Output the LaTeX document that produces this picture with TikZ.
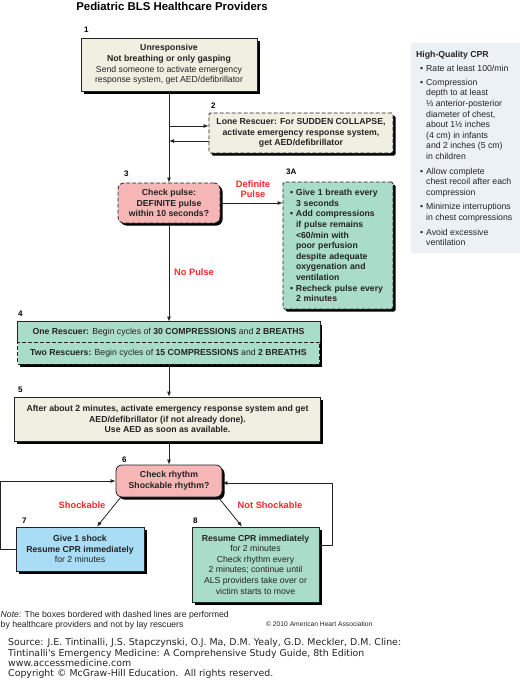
\documentclass[tikz,border=0pt]{standalone}
\usepackage{fontspec}
\setmainfont{Liberation Sans}
\newfontfamily\srcfont{DejaVu Sans}
\usetikzlibrary{arrows.meta,shadows,positioning}

\definecolor{beige}{RGB}{240,240,226}
\definecolor{pinkbox}{RGB}{246,182,182}
\definecolor{mint}{RGB}{170,221,201}
\definecolor{skyblue}{RGB}{168,221,245}
\definecolor{panelbg}{RGB}{236,241,245}
\definecolor{alarm}{RGB}{255,40,40}
\definecolor{ink}{RGB}{35,35,35}

\newcommand{\boxfont}{\fontsize{8.7}{10.6}\selectfont}
\newcommand{\cprbul}{\makebox[6pt][l]{\textbullet}}
\newcommand{\cprind}{\hspace*{6pt}}

\tikzset{
  box/.style={draw=ink, line width=0.8pt, align=center, inner sep=0pt,
    font=\boxfont, text=ink,
    general shadow={fill=black, shadow xshift=2.5pt, shadow yshift=-2.5pt}},
  dashbox/.style={box, dash pattern=on 4pt off 2pt},
  numlabel/.style={anchor=base west, inner sep=0pt, font=\fontsize{8}{9}\selectfont\bfseries},
  redlabel/.style={inner sep=0pt, align=center, text=alarm, font=\fontsize{9.3}{10}\selectfont\bfseries},
  arr/.style={-{Latex[length=5pt,width=4pt]}, draw=ink, line width=0.8pt}
}

\begin{document}
\begin{tikzpicture}[x=1pt,y=-1pt]
\useasboundingbox (0,0) rectangle (520,681);

% title
\node[anchor=base, inner sep=0pt, font=\fontsize{11.4}{13}\selectfont\bfseries] (title) at (172,10) {Pediatric BLS Healthcare Providers};

% high-quality CPR panel
\fill[panelbg] (411,43) rectangle (520,253);
\node[anchor=north west, inner sep=0pt, align=left, font=\boxfont, text=ink] (hq) at (416,50.5) {%
  \textbf{High-Quality CPR}\\[3.4pt]
  \hspace*{4pt}\cprbul Rate at least 100/min\\[3.6pt]
  \hspace*{4pt}\cprbul Compression\\
  \hspace*{4pt}\cprind depth to at least\\
  \hspace*{4pt}\cprind ⅓ anterior-posterior\\
  \hspace*{4pt}\cprind diameter of chest,\\
  \hspace*{4pt}\cprind about 1½ inches\\
  \hspace*{4pt}\cprind (4 cm) in infants\\
  \hspace*{4pt}\cprind and 2 inches (5 cm)\\
  \hspace*{4pt}\cprind in children\\[4pt]
  \hspace*{4pt}\cprbul Allow complete\\
  \hspace*{4pt}\cprind chest recoil after each\\
  \hspace*{4pt}\cprind compression\\[3.6pt]
  \hspace*{4pt}\cprbul Minimize interruptions\\
  \hspace*{4pt}\cprind in chest compressions\\[4.4pt]
  \hspace*{4pt}\cprbul Avoid excessive\\
  \hspace*{4pt}\cprind ventilation};

% boxes
\node[box, fill=beige, minimum width=176pt, minimum height=53pt] (unresp) at (169,64.5)
  {\textbf{Unresponsive}\\ \textbf{Not breathing or only gasping}\\ Send someone to activate emergency\\ response system, get AED/defibrillator};
\node[dashbox, fill=beige, rounded corners=1.5pt, minimum width=184pt, minimum height=40pt] (lone) at (301,133)
  {\bfseries Lone Rescuer: For SUDDEN COLLAPSE,\\ \bfseries activate emergency response system,\\ \bfseries get AED/defibrillator};
\node[dashbox, fill=pinkbox, rounded corners=6pt, minimum width=102pt, minimum height=40pt] (pulse) at (169,203)
  {\bfseries Check pulse:\\ \bfseries DEFINITE pulse\\ \bfseries within 10 seconds?};
\node[dashbox, fill=mint, rounded corners=1.5pt, align=left, text width=96pt, minimum width=110pt, minimum height=127pt] (breath) at (338,245.5)
  {\bfseries\cprbul Give 1 breath every\\ \cprind 3 seconds\\
   \cprbul Add compressions\\ \cprind if pulse remains\\ \cprind <60/min with\\ \cprind poor perfusion\\
   \cprind despite adequate\\ \cprind oxygenation and\\ \cprind ventilation\\
   \cprbul Recheck pulse every\\ \cprind 2 minutes};
\node[box, fill=mint, draw=none, minimum width=302pt, minimum height=20pt] (one) at (168.5,332)
  {\textbf{One Rescuer:} Begin cycles of \textbf{30 COMPRESSIONS} and \textbf{2 BREATHS}};
\node[dashbox, fill=mint, minimum width=302pt, minimum height=22pt] (two) at (168.5,353)
  {\textbf{Two Rescuers:} Begin cycles of \textbf{15 COMPRESSIONS} and \textbf{2 BREATHS}};
\draw[ink, line width=0.8pt] (one.south west) -- (one.north west) -- (one.north east) -- (one.south east);
\node[box, fill=beige, minimum width=306pt, minimum height=44pt] (after) at (167.5,419)
  {\bfseries After about 2 minutes, activate emergency response system and get\\
   \bfseries AED/defibrillator (if not already done).\\ \bfseries Use AED as soon as available.};
\node[box, fill=pinkbox, rounded corners=6pt, minimum width=106pt, minimum height=32pt] (rhythm) at (169,481)
  {\bfseries Check rhythm\\ \bfseries Shockable rhythm?};
\node[box, fill=skyblue, minimum width=128pt, minimum height=44pt] (shock) at (80,549)
  {\textbf{Give 1 shock}\\ \textbf{Resume CPR immediately}\\ for 2 minutes};
\node[box, fill=mint, minimum width=127pt, minimum height=75pt] (cpr) at (255.5,564.5)
  {\textbf{Resume CPR immediately}\\ for 2 minutes\\ Check rhythm every\\ 2 minutes; continue until\\ ALS providers take over or\\ victim starts to move};

% step numbers
\node[numlabel] (n1) at (84,32) {1};
\node[numlabel] (n2) at (211,108.5) {2};
\node[numlabel] (n3) at (124,176) {3};
\node[numlabel] (n3a) at (286,174) {3A};
\node[numlabel] (n4) at (18,316) {4};
\node[numlabel] (n5) at (18,392) {5};
\node[numlabel] (n6) at (122,462) {6};
\node[numlabel] (n7) at (22,523) {7};
\node[numlabel] (n8) at (193,523) {8};

% connectors
\draw[arr] (unresp.south) -- (pulse.north);
\draw[arr] ([yshift=7pt]lone.west -| unresp.south) -- ([yshift=7pt]lone.west);
\draw[arr] ([yshift=-8pt]lone.west) -- ([yshift=-8pt]lone.west -| unresp.south);
\draw[arr] (pulse.east) -- (pulse.east -| breath.west);
\draw[arr] (pulse.south) -- (pulse.south |- one.north);
\draw[arr] (pulse.south |- two.south) -- (pulse.south |- after.north);
\draw[arr] (after.south -| rhythm.north) -- (rhythm.north);
\draw[arr] ([xshift=5pt]rhythm.south west) -- ([xshift=17pt]shock.north);
\draw[arr] ([xshift=-4pt]rhythm.south east) -- ([xshift=-13.5pt]cpr.north);
\draw[arr] (shock.west) -- ++(-15,0) |- (rhythm.west);
\draw[arr] ([yshift=19.5pt]cpr.east) -- ++(13,0) |- ([yshift=-2pt]rhythm.east);

% branch labels
\node[redlabel] (definite) at (253,189) {Definite\\ Pulse};
\node[redlabel] (nopulse) at (194,272) {No Pulse};
\node[redlabel] (shockable) at (82,505) {Shockable};
\node[redlabel] (notshock) at (270,505) {Not Shockable};

% note and source
\node[anchor=base west, inner sep=0pt, font=\boxfont, text=ink] (note1) at (0.5,617) {\textit{Note:} The boxes bordered with dashed lines are performed};
\node[anchor=base west, inner sep=0pt, font=\boxfont, text=ink] (note2) at (0.5,627) {by healthcare providers and not by lay rescuers};
\node[anchor=base west, inner sep=0pt, font=\fontsize{6.7}{8}\selectfont, text=ink] (aha) at (266,626.5) {© 2010 American Heart Association};
\node[anchor=base west, inner sep=0pt, font=\srcfont\fontsize{9.4}{10.5}\selectfont, text=ink] (src1) at (8,645.7) {Source: J.E. Tintinalli, J.S. Stapczynski, O.J. Ma, D.M. Yealy, G.D. Meckler, D.M. Cline:};
\node[anchor=base west, inner sep=0pt, font=\srcfont\fontsize{9.4}{10.5}\selectfont, text=ink] (src2) at (8,656) {Tintinalli's Emergency Medicine: A Comprehensive Study Guide, 8th Edition};
\node[anchor=base west, inner sep=0pt, font=\srcfont\fontsize{9.4}{10.5}\selectfont, text=ink] (src3) at (8,666.3) {www.accessmedicine.com};
\node[anchor=base west, inner sep=0pt, font=\srcfont\fontsize{9.4}{10.5}\selectfont, text=ink] (src4) at (8,676.7) {Copyright © McGraw-Hill Education.\ \ All rights reserved.};
\end{tikzpicture}
\end{document}
